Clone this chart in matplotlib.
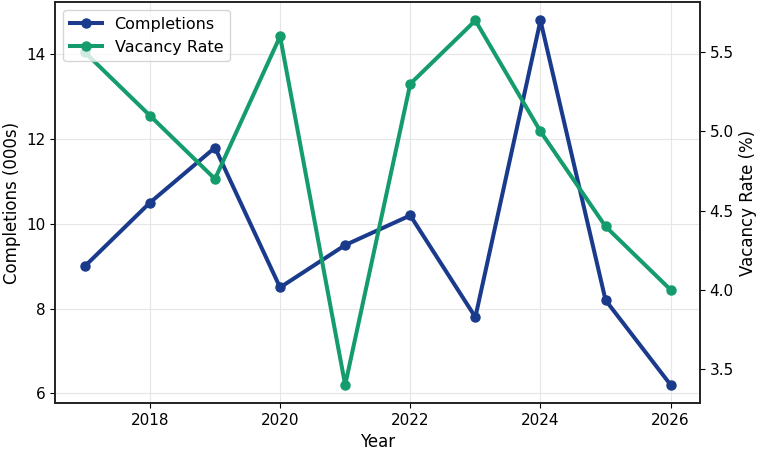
import matplotlib
matplotlib.use("Agg")
import matplotlib.pyplot as plt

# -------- data --------
years = [2017, 2018, 2019, 2020, 2021, 2022, 2023, 2024, 2025, 2026]
completions = [9.0, 10.5, 11.8, 8.5, 9.5, 10.2, 7.8, 14.8, 8.2, 6.2]
vacancy = [5.5, 5.1, 4.7, 5.6, 3.4, 5.3, 5.7, 5.0, 4.4, 4.0]

blue = "#1a3a8c"
green = "#149c6c"

fig, ax = plt.subplots(figsize=(7.6, 4.54), dpi=100)

l1 = ax.plot(years, completions, color=blue, linewidth=2.9, marker="o",
             markersize=6.5, label="Completions")
ax.set_xlabel("Year", fontsize=12)
ax.set_ylabel("Completions (000s)", fontsize=12)
ax.grid(True, color="#e6e6e6", linewidth=0.8)
ax.tick_params(labelsize=11)

# second axis for vacancy
ax2 = ax.twinx()
l2 = ax2.plot(years, vacancy, color=green, linewidth=2.9, marker="o",
              markersize=6.5, label="Vacancy Rate")
ax2.set_ylabel("Vacancy Rate (%)", fontsize=12)
ax2.tick_params(labelsize=11)

for a in (ax, ax2):
    for s in a.spines.values():
        s.set_color("#222222")
        s.set_linewidth(1.2)

# blue axis behind, legend on top
ax.set_zorder(ax2.get_zorder() - 1)
ax.patch.set_visible(False)
lines = l1 + l2
ax2.legend(lines, [l.get_label() for l in lines], loc="upper left", fontsize=11.5)

plt.subplots_adjust(left=0.073, right=0.921, top=0.995, bottom=0.112)
plt.savefig("out.png")
plt.close()
